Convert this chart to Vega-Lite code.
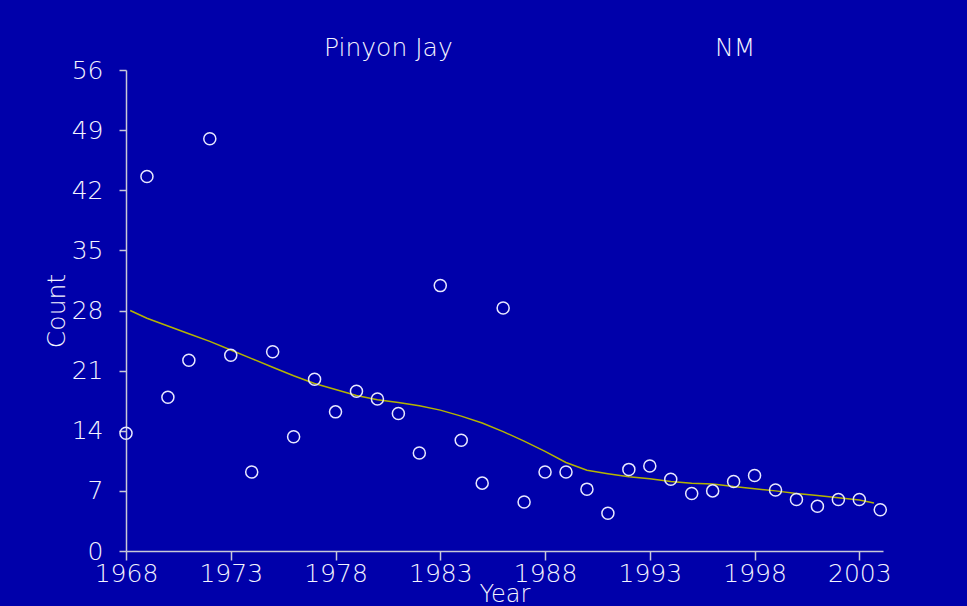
{
  "$schema": "https://vega.github.io/schema/vega-lite/v6.json",
  "autosize": {"type": "none"},
  "width": 757,
  "height": 481,
  "padding": {"left": 126, "top": 70, "right": 84, "bottom": 55},
  "background": "#0000AA",
  "title": {
    "text": "Pinyon\u00a0Jay\u00a0\u00a0\u00a0\u00a0\u00a0\u00a0\u00a0\u00a0\u00a0\u00a0\u00a0\u00a0\u00a0\u00a0\u00a0\u00a0\u00a0\u00a0\u00a0\u00a0\u00a0\u00a0\u00a0\u00a0\u00a0\u00a0\u00a0\u00a0\u00a0\u00a0\u00a0\u00a0\u00a0NM",
    "anchor": "start",
    "frame": "group",
    "dx": 198,
    "offset": -23,
    "baseline": "alphabetic",
    "font": "DejaVu Sans",
    "fontWeight": 200,
    "fontSize": 25,
    "color": "#F4F4FF"
  },
  "config": {
    "view": {"stroke": null},
    "axis": {
      "labelFont": "DejaVu Sans",
      "labelFontWeight": 200,
      "labelFontSize": 25,
      "labelColor": "#F4F4FF",
      "titleFont": "DejaVu Sans",
      "titleFontWeight": 200,
      "titleFontSize": 25,
      "titleColor": "#F4F4FF",
      "domainColor": "#C8C8D8",
      "tickColor": "#C8C8D8",
      "domainWidth": 1.5,
      "tickWidth": 1.5,
      "grid": false
    }
  },
  "datasets": {
    "counts": [
      {"year": 1968, "count": 13.7},
      {"year": 1969, "count": 43.6},
      {"year": 1970, "count": 17.9},
      {"year": 1971, "count": 22.2},
      {"year": 1972, "count": 48.0},
      {"year": 1973, "count": 22.8},
      {"year": 1974, "count": 9.2},
      {"year": 1975, "count": 23.2},
      {"year": 1976, "count": 13.3},
      {"year": 1977, "count": 20.0},
      {"year": 1978, "count": 16.2},
      {"year": 1979, "count": 18.6},
      {"year": 1980, "count": 17.7},
      {"year": 1981, "count": 16.0},
      {"year": 1982, "count": 11.4},
      {"year": 1983, "count": 30.9},
      {"year": 1984, "count": 12.9},
      {"year": 1985, "count": 7.9},
      {"year": 1986, "count": 28.3},
      {"year": 1987, "count": 5.7},
      {"year": 1988, "count": 9.2},
      {"year": 1989, "count": 9.2},
      {"year": 1990, "count": 7.2},
      {"year": 1991, "count": 4.4},
      {"year": 1992, "count": 9.5},
      {"year": 1993, "count": 9.9},
      {"year": 1994, "count": 8.35},
      {"year": 1995, "count": 6.7},
      {"year": 1996, "count": 7.0},
      {"year": 1997, "count": 8.1},
      {"year": 1998, "count": 8.8},
      {"year": 1999, "count": 7.1},
      {"year": 2000, "count": 6.0},
      {"year": 2001, "count": 5.2},
      {"year": 2002, "count": 6.0},
      {"year": 2003, "count": 6.0},
      {"year": 2004, "count": 4.8}
    ],
    "trend": [
      {"year": 1968.2, "fit": 28.0},
      {"year": 1969, "fit": 27.1},
      {"year": 1970, "fit": 26.2},
      {"year": 1971, "fit": 25.3},
      {"year": 1972, "fit": 24.4},
      {"year": 1973, "fit": 23.4},
      {"year": 1974, "fit": 22.4},
      {"year": 1975, "fit": 21.4},
      {"year": 1976, "fit": 20.4},
      {"year": 1977, "fit": 19.5},
      {"year": 1978, "fit": 18.8},
      {"year": 1979, "fit": 18.1},
      {"year": 1980, "fit": 17.6},
      {"year": 1981, "fit": 17.3},
      {"year": 1982, "fit": 16.9},
      {"year": 1983, "fit": 16.4},
      {"year": 1984, "fit": 15.7},
      {"year": 1985, "fit": 14.9},
      {"year": 1986, "fit": 13.9},
      {"year": 1987, "fit": 12.8},
      {"year": 1988, "fit": 11.6},
      {"year": 1989, "fit": 10.3},
      {"year": 1990, "fit": 9.4},
      {"year": 1991, "fit": 9.0},
      {"year": 1992, "fit": 8.65},
      {"year": 1993, "fit": 8.4},
      {"year": 1994, "fit": 8.1},
      {"year": 1995, "fit": 7.9},
      {"year": 1996, "fit": 7.8},
      {"year": 1997, "fit": 7.5},
      {"year": 1998, "fit": 7.26},
      {"year": 1999, "fit": 7.0},
      {"year": 2000, "fit": 6.7},
      {"year": 2001, "fit": 6.45},
      {"year": 2002, "fit": 6.2},
      {"year": 2003, "fit": 5.95},
      {"year": 2003.7, "fit": 5.6}
    ]
  },
  "layer": [
    {
      "data": {"name": "trend"},
      "mark": {"type": "line", "color": "#B4B400", "strokeWidth": 1.5},
      "encoding": {
        "x": {
          "field": "year", "type": "quantitative",
          "scale": {"domain": [1968, 2004.13], "nice": false, "zero": false},
          "axis": {
            "title": "Year",
            "values": [1968, 1973, 1978, 1983, 1988, 1993, 1998, 2003],
            "format": "d",
            "tickSize": 9,
            "labelPadding": 1,
            "labelFlush": false,
            "labelOverlap": false,
            "titlePadding": -4,
            "titleFontSize": 24
          }
        },
        "y": {
          "field": "fit", "type": "quantitative",
          "scale": {"domain": [0, 56], "nice": false},
          "axis": {
            "title": "Count",
            "values": [0, 7, 14, 21, 28, 35, 42, 49, 56],
            "tickSize": 7,
            "labelPadding": 16,
            "labelFlush": false,
            "labelOverlap": false,
            "titlePadding": 2
          }
        }
      }
    },
    {
      "data": {"name": "counts"},
      "mark": {"type": "point", "shape": "circle", "filled": false, "size": 145, "stroke": "#E8E8FF", "strokeWidth": 1.5, "opacity": 1},
      "encoding": {
        "x": {"field": "year", "type": "quantitative"},
        "y": {"field": "count", "type": "quantitative"}
      }
    }
  ]
}
